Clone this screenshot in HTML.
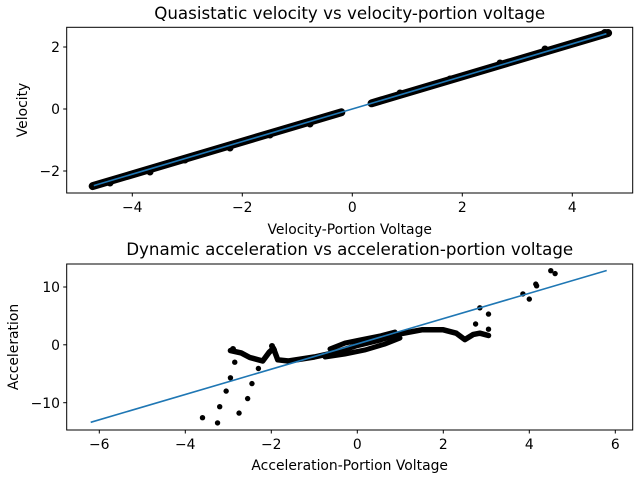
<!DOCTYPE html>
<html><head><meta charset="utf-8">
<style>
html,body{margin:0;padding:0;background:#fff;}
svg{display:block;font-family:"DejaVu Sans","Liberation Sans",sans-serif;}
</style></head>
<body>
<svg width="640" height="480" xmlns="http://www.w3.org/2000/svg">
<rect width="640" height="480" fill="#fff"/>
<!-- top data -->
<g stroke="#000" stroke-linecap="round" fill="none">
<line x1="92.7" y1="186.1" x2="341.3" y2="112.3" stroke-width="8"/>
<line x1="371.6" y1="103.3" x2="608.1" y2="33.0" stroke-width="8"/>
</g>
<g fill="#000">
<circle cx="110" cy="183" r="3.5"/><circle cx="150" cy="172" r="3.5"/><circle cx="185" cy="160" r="3.5"/>
<circle cx="230" cy="148" r="3.5"/><circle cx="270" cy="135" r="3.5"/><circle cx="310" cy="124" r="3.5"/>
<circle cx="400" cy="93" r="3.5"/><circle cx="450" cy="79" r="3.5"/><circle cx="500" cy="63" r="3.5"/>
<circle cx="545" cy="49" r="3.5"/><circle cx="590" cy="38" r="3.5"/><circle cx="605" cy="33" r="4"/>
</g>
<line x1="93.8" y1="185.6" x2="606.4" y2="33.7" stroke="#1f77b4" stroke-width="1.6"/>
<!-- bottom data -->
<polyline fill="none" stroke="#000" stroke-width="5.5" stroke-linejoin="round" stroke-linecap="round"
points="230.45,350.6 241.2,352.9 249.8,357.5 262.7,361.0 269.15,352.3 273.45,348.3 277.75,359.8 288.5,361.0 314.3,357.0 335.8,352.3 357.3,345.4 378.8,340.2 400.3,333.8 421.8,329.8 443.3,329.8 456.2,333.2 464.8,339.6 473.4,334.4 479.85,333.2 488.5,335.5"/>
<polyline fill="none" stroke="#000" stroke-width="5" stroke-linecap="round"
points="330,349 345,343 360,340 380,336 395,332"/>
<polyline fill="none" stroke="#000" stroke-width="5" stroke-linecap="round"
points="325,357 345,354 365,350 385,344 400,338"/>
<g fill="#000">
<circle cx="202.5" cy="417.7" r="2.7"/><circle cx="217.55" cy="422.9" r="2.7"/><circle cx="219.7" cy="406.7" r="2.7"/>
<circle cx="226.15" cy="391.1" r="2.7"/><circle cx="230.45" cy="377.8" r="2.7"/><circle cx="234.75" cy="362.2" r="2.7"/>
<circle cx="239.05" cy="413.1" r="2.7"/><circle cx="247.65" cy="398.6" r="2.7"/><circle cx="251.95" cy="383.6" r="2.7"/>
<circle cx="258.4" cy="368.5" r="2.7"/><circle cx="479.85" cy="307.8" r="2.7"/><circle cx="488.5" cy="314.1" r="2.7"/>
<circle cx="488.5" cy="329.2" r="2.7"/><circle cx="475.6" cy="324.0" r="2.7"/><circle cx="522.9" cy="293.9" r="2.7"/>
<circle cx="529.3" cy="299.1" r="2.7"/><circle cx="535.8" cy="284.1" r="2.7"/><circle cx="536.6" cy="285.8" r="2.7"/>
<circle cx="550.8" cy="270.7" r="2.7"/><circle cx="555.1" cy="273.6" r="2.7"/>
<circle cx="233" cy="349" r="3"/><circle cx="272" cy="346" r="3"/><circle cx="274" cy="350" r="3"/>
</g>
<line x1="90.7" y1="422.3" x2="606.7" y2="270.5" stroke="#1f77b4" stroke-width="1.6"/>
<!-- frames -->
<rect x="66.7" y="27.3" width="566" height="165.7" fill="none" stroke="#000" stroke-width="1"/>
<rect x="66.7" y="264" width="566" height="166" fill="none" stroke="#000" stroke-width="1"/>
<!-- ticks -->
<g stroke="#000" stroke-width="1">
<line x1="132.3" x2="132.3" y1="193" y2="196.5"/><line x1="242.3" x2="242.3" y1="193" y2="196.5"/><line x1="352.3" x2="352.3" y1="193" y2="196.5"/><line x1="462.3" x2="462.3" y1="193" y2="196.5"/><line x1="572.3" x2="572.3" y1="193" y2="196.5"/>
<line x1="63.2" x2="66.7" y1="47" y2="47"/><line x1="63.2" x2="66.7" y1="109" y2="109"/><line x1="63.2" x2="66.7" y1="171" y2="171"/>
<line x1="99.3" x2="99.3" y1="430" y2="433.5"/><line x1="185.3" x2="185.3" y1="430" y2="433.5"/><line x1="271.3" x2="271.3" y1="430" y2="433.5"/><line x1="357.3" x2="357.3" y1="430" y2="433.5"/><line x1="443.3" x2="443.3" y1="430" y2="433.5"/><line x1="529.3" x2="529.3" y1="430" y2="433.5"/><line x1="615.3" x2="615.3" y1="430" y2="433.5"/>
<line x1="63.2" x2="66.7" y1="287" y2="287"/><line x1="63.2" x2="66.7" y1="344.8" y2="344.8"/><line x1="63.2" x2="66.7" y1="402.7" y2="402.7"/>
</g>
<g font-size="13.9" fill="#000" text-anchor="middle">
<text x="132.3" y="212">−4</text><text x="242.3" y="212">−2</text><text x="352.3" y="212">0</text><text x="462.3" y="212">2</text><text x="572.3" y="212">4</text>
<text x="99.3" y="449">−6</text><text x="185.3" y="449">−4</text><text x="271.3" y="449">−2</text><text x="357.3" y="449">0</text><text x="443.3" y="449">2</text><text x="529.3" y="449">4</text><text x="615.3" y="449">6</text>
</g>
<g font-size="13.9" fill="#000" text-anchor="end">
<text x="60" y="52">2</text><text x="60" y="114">0</text><text x="60" y="176">−2</text>
<text x="60" y="292">10</text><text x="60" y="350">0</text><text x="60" y="408">−10</text>
</g>
<g font-size="13.9" fill="#000">
<text x="349.7" y="19" text-anchor="middle" font-size="16.7">Quasistatic velocity vs velocity-portion voltage</text>
<text x="349.7" y="255" text-anchor="middle" font-size="16.7">Dynamic acceleration vs acceleration-portion voltage</text>
<text x="349.7" y="234" text-anchor="middle">Velocity-Portion Voltage</text>
<text x="349.7" y="470" text-anchor="middle">Acceleration-Portion Voltage</text>
<text transform="translate(27,110) rotate(-90)" text-anchor="middle">Velocity</text>
<text transform="translate(18,347) rotate(-90)" text-anchor="middle">Acceleration</text>
</g>
</svg>
</body></html>
